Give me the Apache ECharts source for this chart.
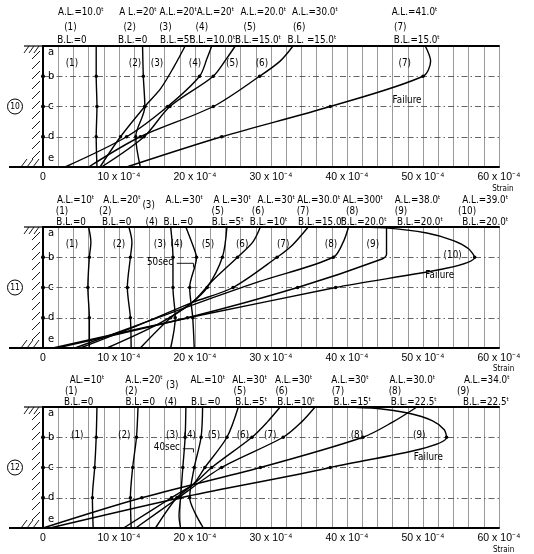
<!DOCTYPE html>
<html><head><meta charset="utf-8">
<script src="https://cdn.jsdelivr.net/npm/echarts@6/dist/echarts.min.js"></script>
<style>html,body{margin:0;padding:0;background:#fff}#c{width:534px;height:554px}</style>
</head><body><div id="c"></div>
<script>
// ---- categories / ticks ----
const levelNames = ['e', 'd', 'c', 'b', 'a'];          // level 0 (bottom) .. 4 (top)
const levelLabelPos = [0.3, 1, 2, 3, 3.8];
const xTickValues = [0, 10, 20, 30, 40, 50, 60];
const xTickLabels = ['0', '10 x 10⁻⁴', '20 x 10⁻⁴', '30 x 10⁻⁴', '40 x 10⁻⁴', '50 x 10⁻⁴', '60 x 10⁻⁴'];
const panelNames = ['10', '11', '12'];

// ---- series values: [strain (x10^-4), level] ----
const curves10 = [
  [[7.0,4],[7.0,3],[7.1,2],[7.0,1],[7.1,0]],
  [[13.1,4],[13.2,3],[13.4,2],[12.2,1],[12.8,0]],
  [[18.7,4],[17.2,3.3],[15.5,2.6],[13.4,2],[10.2,1],[7.5,0]],
  [[22.2,4],[21.6,3.6],[20.6,3],[16.4,2],[11.0,1],[2.9,0]],
  [[25.3,4],[24.2,3.6],[22.4,3],[16.7,2],[13.3,1],[7.7,0]],
  [[32.9,4],[31.2,3.5],[28.5,3],[22.4,2],[12.8,1],[6.0,0]],
  [[50.3,4],[51.0,3.5],[50.0,3],[37.8,2],[23.5,1],[11.0,0]]
];
const curves11 = [
  [[6.0,4],[6.3,3.5],[6.1,3],[5.9,2],[6.1,1],[6.1,0]],
  [[11.3,4],[11.7,3.5],[11.5,3],[11.1,2],[11.5,1],[11.6,0]],
  [[16.8,4],[17.1,3],[17.1,2],[17.4,1],[16.8,0]],
  [[18.8,4],[20.0,3.2],[20.2,3],[19.3,2],[19.7,1],[19.9,0]],
  [[24.2,4],[23.6,3],[21.6,2],[19.6,1.5],[16.8,1],[12.8,0]],
  [[28.6,4],[27.6,3.5],[25.6,3],[22.2,2.2],[19.6,1.5],[15.2,0.8],[8.4,0]],
  [[34.9,4],[32.8,3.4],[30.8,3],[25.0,2],[19.6,1.5],[12.5,0.75],[4.9,0]],
  [[40.2,4],[39.5,3.5],[38.2,3],[28.5,2.2],[20.0,1.45],[4.2,0]],
  [[45.2,4],[45.2,3.1],[44.7,2.95],[33.5,2],[19.0,1],[1.8,0]],
  [[40.0,4],[45.0,3.97],[50.5,3.8],[54.0,3.55],[56.0,3.28],[56.8,3],[38.5,2],[21.0,1.1],[1.3,0]]
];
const curves12 = [
  [[7.1,4],[7.0,3],[6.8,2],[6.5,1],[6.6,0]],
  [[12.5,4],[12.3,3],[11.8,2],[11.5,1],[11.6,0]],
  [[18.8,4],[18.7,3],[18.4,2],[18.1,1],[17.9,0.4],[18.1,0]],
  [[21.0,4],[20.8,3],[19.9,2],[19.3,1],[20.0,0.5],[21.1,0]],
  [[25.7,4],[24.2,3],[21.3,2],[19.8,1.45],[17.6,1],[14.8,0]],
  [[31.2,4],[29.5,3.5],[27.5,3],[22.2,2],[19.8,1.45],[16.9,1],[10.6,0]],
  [[35.8,4],[34.0,3.5],[31.6,3],[23.5,2],[17.8,1],[12.2,0]],
  [[49.2,4],[46.0,3.5],[42.1,3],[28.6,2],[13.0,1],[0.0,0]],
  [[39.5,4],[44.0,3.95],[48.0,3.8],[51.2,3.55],[52.8,3.25],[53.1,3],[37.8,2],[19.0,1.05],[0.9,0]]
];
const secMarks = [
  [[17.6,2.8],[19.8,2.8],[19.8,2.66]],
  [[18.4,2.62],[19.8,2.62],[19.8,2.5]]
];

// ---- texts: [strain, level, text, size] ----
const texts10 = [
  [5.0,5.12,'A.L.=10.0ᵗ'],[12.5,5.12,'A L.=20ᵗ'],[17.8,5.12,'A.L.=20ᵗ'],[22.7,5.12,'A.L.=20ᵗ'],
  [29.0,5.12,'A.L.=20.0ᵗ'],[35.8,5.12,'A.L.=30.0ᵗ'],[48.9,5.12,'A.L.=41.0ᵗ'],
  [3.6,4.63,'(1)'],[11.4,4.63,'(2)'],[16.1,4.63,'(3)'],[20.9,4.63,'(4)'],[27.2,4.63,'(5)'],[33.7,4.63,'(6)'],[47.0,4.63,'(7)'],
  [3.8,4.2,'B.L.=0'],[11.8,4.2,'B.L.=0'],[17.5,4.2,'B.L.=5ᵗ'],[22.3,4.2,'B.L.=10.0ᵗ'],[28.3,4.2,'B.L.=15.0ᵗ'],
  [35.4,4.2,'B.L. =15.0ᵗ'],[49.2,4.2,'B.L.=15.0ᵗ'],
  [3.8,3.44,'(1)'],[12.1,3.44,'(2)'],[15.0,3.44,'(3)'],[20.0,3.44,'(4)'],[24.9,3.44,'(5)'],[28.8,3.44,'(6)'],[47.6,3.44,'(7)'],
  [47.9,2.21,'Failure'],[60.5,-0.73,'Strain',9]
];
const texts11 = [
  [4.3,4.89,'A.L.=10ᵗ'],[10.4,4.89,'A.L.=20ᵗ'],[13.9,4.73,'(3)'],[18.6,4.89,'A.L.=30ᵗ'],[24.9,4.89,'A L.=30ᵗ'],
  [30.7,4.89,'A.L.=30ᵗ'],[36.3,4.89,'AL.=30.0ᵗ'],[42.1,4.89,'AL.=300ᵗ'],[49.3,4.89,'A.L.=38.0ᵗ'],[58.2,4.89,'A.L.=39.0ᵗ'],
  [2.5,4.53,'(1)'],[8.2,4.53,'(2)'],[23.0,4.53,'(5)'],[28.3,4.53,'(6)'],[34.2,4.53,'(7)'],[40.7,4.53,'(8)'],[47.1,4.53,'(9)'],[55.8,4.53,'(10)'],
  [3.7,4.17,'B.L.=0'],[9.7,4.17,'B.L.=0'],[14.3,4.17,'(4)'],[17.8,4.17,'B.L.=0'],[24.3,4.17,'B.L.=5ᵗ'],[29.7,4.17,'B.L.=10ᵗ'],
  [36.6,4.17,'B.L.=15.0ᵗ'],[42.2,4.17,'B.L.=20.0ᵗ'],[49.6,4.17,'B.L.=20.0ᵗ'],[58.2,4.17,'B.L.=20.0ᵗ'],
  [3.8,3.43,'(1)'],[10.0,3.43,'(2)'],[15.4,3.43,'(3)'],[17.6,3.43,'(4)'],[21.7,3.43,'(5)'],[26.2,3.43,'(6)'],
  [31.6,3.43,'(7)'],[37.9,3.43,'(8)'],[43.4,3.43,'(9)'],[53.9,3.07,'(10)'],
  [52.2,2.41,'Failure'],[15.4,2.84,'50sec'],[60.6,-0.68,'Strain',9]
];
const texts12 = [
  [5.8,4.89,'AL.=10ᵗ'],[13.3,4.89,'A.L.=20ᵗ'],[17.0,4.73,'(3)'],[21.7,4.89,'AL.=10ᵗ'],[27.2,4.89,'AL.=30ᵗ'],
  [33.0,4.89,'A.L.=30ᵗ'],[40.4,4.89,'A.L.=30ᵗ'],[48.6,4.89,'A.L.=30.0ᵗ'],[58.4,4.89,'A.L.=34.0ᵗ'],
  [3.7,4.53,'(1)'],[11.6,4.53,'(2)'],[25.9,4.53,'(5)'],[31.4,4.53,'(6)'],[38.8,4.53,'(7)'],[46.3,4.53,'(8)'],[55.3,4.53,'(9)'],
  [4.7,4.17,'B.L.=0'],[12.8,4.17,'B.L.=0'],[16.8,4.17,'(4)'],[21.4,4.17,'B.L.=0'],[27.4,4.17,'B.L.=5ᵗ'],[33.3,4.17,'B.L.=10ᵗ'],
  [40.7,4.17,'B.L.=15ᵗ'],[48.8,4.17,'B.L.=22.5ᵗ'],[58.3,4.17,'B.L.=22.5ᵗ'],
  [4.5,3.07,'(1)'],[10.7,3.07,'(2)'],[17.0,3.07,'(3)'],[19.3,3.07,'(4)'],[22.5,3.07,'(5)'],[26.3,3.07,'(6)'],[29.9,3.07,'(7)'],
  [41.3,3.07,'(8)'],[49.5,3.07,'(9)'],[50.7,2.35,'Failure'],[16.3,2.68,'40sec'],[60.6,-0.72,'Strain',9]
];

const allCurves = [curves10, curves11, curves12];
const allTexts = [texts10, texts11, texts12];
const gridTops = [46, 227, 407];

const FONT = '"DejaVu Sans"';
const chart = echarts.init(document.getElementById('c'), null, {renderer: 'canvas'});

const grids = [], xAxes = [], yAxes = [], series = [];
gridTops.forEach((top, i) => {
  grids.push({left: 43, top: top, width: 456, height: 121});
  xAxes.push({
    gridIndex: i, type: 'value', min: 0, max: 60, interval: 2, position: 'bottom',
    axisLine: {show: true, onZero: false, lineStyle: {color: '#000', width: 2}},
    axisTick: {show: false},
    axisLabel: {show: true, margin: 5, color: '#000', fontFamily: 'Liberation Sans', fontSize: 10.5,
      hideOverlap: false, showMinLabel: true, showMaxLabel: true,
      formatter: v => { const k = xTickValues.indexOf(v); return k >= 0 ? xTickLabels[k] : ''; }},
    splitLine: {show: true, lineStyle: {color: '#555', width: 0.6}}
  });
  xAxes.push({
    gridIndex: i, type: 'value', min: 0, max: 60, interval: 2, position: 'top',
    axisLine: {show: true, onZero: false, lineStyle: {color: '#000', width: 2}},
    axisTick: {show: false}, axisLabel: {show: false}, splitLine: {show: false}
  });
  yAxes.push({
    gridIndex: i, type: 'value', min: 0, max: 4, interval: 1,
    axisLine: {show: true, onZero: false, lineStyle: {color: '#000', width: 2}},
    axisTick: {show: false}, axisLabel: {show: false},
    splitLine: {show: true, lineStyle: {color: '#222', width: 0.7, type: [6, 3, 1.5, 3]}}
  });

  allCurves[i].forEach((c, j) => {
    series.push({
      type: 'line', xAxisIndex: 2 * i, yAxisIndex: i, data: c, smooth: 0.3,
      symbol: 'circle', showSymbol: true,
      symbolSize: v => ([1, 2, 3].includes(v[1]) ? 3.5 : 0),
      lineStyle: {color: '#000', width: 1.4}, itemStyle: {color: '#000'},
      z: 3, silent: true, animation: false
    });
  });
  if (i > 0) {
    series.push({
      type: 'line', xAxisIndex: 2 * i, yAxisIndex: i, data: secMarks[i - 1], smooth: false,
      symbol: 'none', lineStyle: {color: '#000', width: 0.9}, z: 3, silent: true
    });
  }

  const items = allTexts[i];
  series.push({
    type: 'custom', xAxisIndex: 2 * i, yAxisIndex: i, clip: false, silent: true, z: 6,
    data: items.map(t => [t[0], t[1]]),
    renderItem: (params, api) => {
      const t = items[params.dataIndex];
      const p = api.coord([api.value(0), api.value(1)]);
      const size = t[3] || 11;
      return {type: 'text', x: p[0], y: p[1], scaleX: 0.8,
        style: {text: t[2], fill: '#000', font: size + 'px ' + FONT,
          align: 'center', verticalAlign: 'middle', textAlign: 'center', textVerticalAlign: 'middle'}};
    }
  });

  // wall hatching, level letters, circled panel number
  series.push({
    type: 'custom', xAxisIndex: 2 * i, yAxisIndex: i, clip: false, silent: true, z: 6,
    data: [[0, 0]],
    renderItem: (params, api) => {
      const pT = api.coord([0, 4]), pB = api.coord([0, 0]);
      const x0 = pT[0], yT = pT[1], yB = pB[1];
      const ch = [];
      const L = (x1, y1, x2, y2, w) => ch.push({type: 'line', shape: {x1, y1, x2, y2}, style: {stroke: '#000', lineWidth: w || 1}});
      for (let y = yT + 9; y < yB - 3; y += 10) L(x0 - 11, y + 4, x0 - 3, y - 4, 0.9);
      L(x0 - 19, yT, x0, yT, 1.2);
      for (let x = x0 - 14; x <= x0; x += 5) L(x, yT, x - 5, yT + 7, 0.9);
      L(x0 - 34, yB, x0, yB, 2);
      for (let x = x0 - 16; x <= x0 - 2; x += 6) L(x - 6, yB, x, yB - 8, 0.9);
      levelNames.forEach((n, k) => {
        const p = api.coord([0, levelLabelPos[k]]);
        ch.push({type: 'text', x: p[0] + 5, y: p[1], style: {text: n, fill: '#000', font: '10px ' + FONT, align: 'left', verticalAlign: 'middle', textAlign: 'left', textVerticalAlign: 'middle'}});
        if (k >= 1 && k <= 3) ch.push({type: 'circle', shape: {cx: p[0], cy: p[1], r: 2}, style: {fill: '#000'}});
      });
      const pc = api.coord([0, 2]);
      ch.push({type: 'circle', shape: {cx: pc[0] - 28, cy: pc[1], r: 7.5}, style: {fill: '#fff', stroke: '#000', lineWidth: 1}});
      ch.push({type: 'text', x: pc[0] - 28, y: pc[1], scaleX: 0.8, style: {text: panelNames[i], fill: '#000', font: '9.5px ' + FONT, align: 'center', verticalAlign: 'middle', textAlign: 'center', textVerticalAlign: 'middle'}});
      return {type: 'group', children: ch};
    }
  });
});

chart.setOption({
  animation: false,
  backgroundColor: '#fff',
  grid: grids, xAxis: xAxes, yAxis: yAxes, series: series
});
</script></body></html>
